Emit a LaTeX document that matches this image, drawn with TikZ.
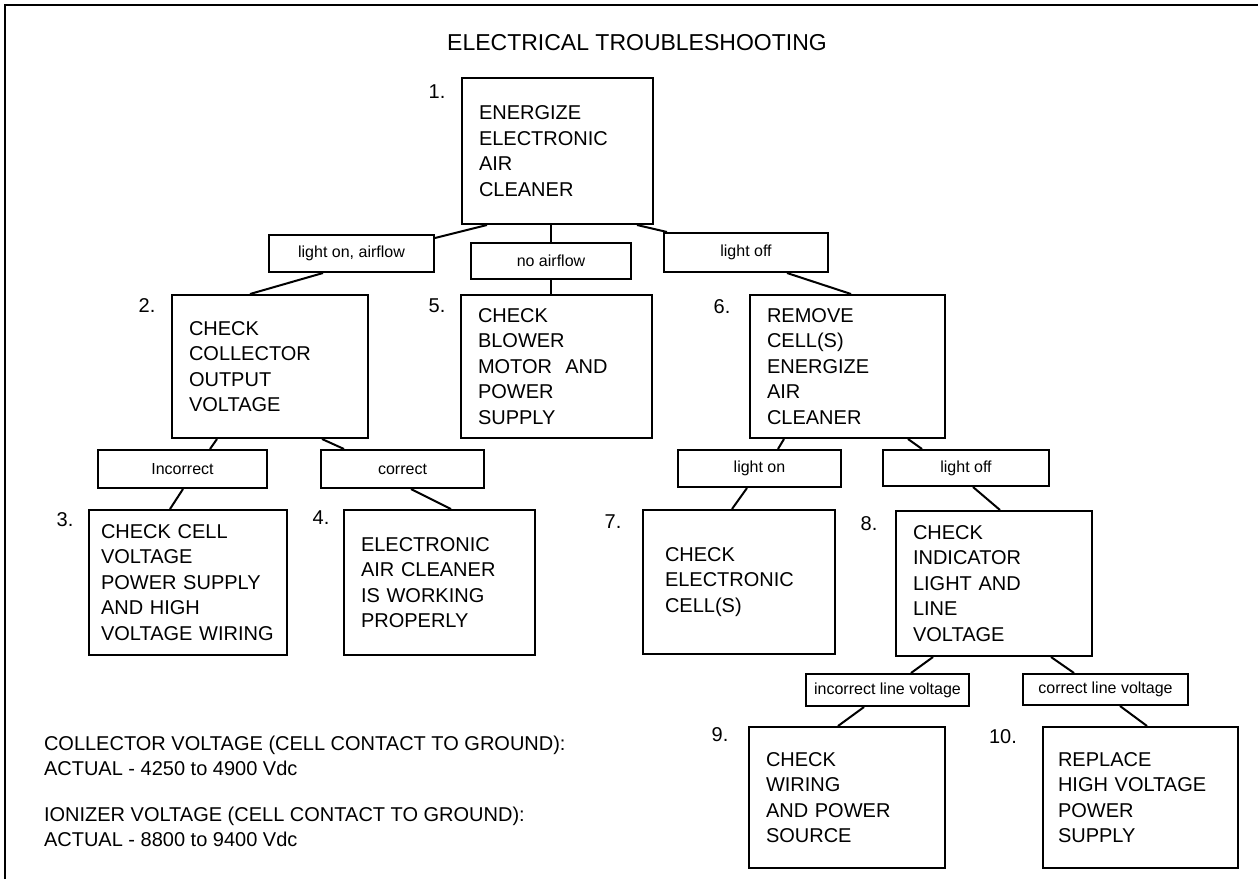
\documentclass[tikz,border=0pt]{standalone}
\usepackage{fontspec}
\setmainfont{Liberation Sans}
\newcommand{\boxfont}{\fontsize{20}{25.5}\selectfont}
\newcommand{\tagfont}{\fontsize{16}{19}\selectfont}
\newcommand{\ttlfont}{\fontsize{23}{27}\selectfont}
\begin{document}
\begin{tikzpicture}[x=1pt, y=-1pt, line width=2pt,
    stepbox/.style={draw, anchor=north west, align=left, inner xsep=17pt, font=\boxfont},
    tagbox/.style={draw, anchor=north west, inner sep=0pt, font=\tagfont},
    numtxt/.style={font=\boxfont, inner sep=0pt},
    notetxt/.style={font=\boxfont, anchor=west, align=left, inner sep=0pt}]
	\useasboundingbox (0,0) rectangle (1258,879);
	% 1. Rahmen und Titel
	\draw (5,879) -- (5,5) -- (1258,5);
	\node[font=\ttlfont] (title) at (637,43) {ELECTRICAL TROUBLESHOOTING};
	
	% 2. Schritte
	\node[stepbox, minimum height=146, text width=157] (b1) at (461,77) {ENERGIZE\\ELECTRONIC\\AIR\\CLEANER};
	\node[stepbox, minimum height=143, text width=162] (b2) at (171,294) {CHECK\\COLLECTOR\\OUTPUT\\VOLTAGE};
	\node[stepbox, minimum height=143, text width=157] (b5) at (460,294) {CHECK\\BLOWER\\MOTOR\ \ AND\\POWER\\SUPPLY};
	\node[stepbox, minimum height=143, text width=161] (b6) at (749,294) {REMOVE\\CELL(S)\\ENERGIZE\\AIR\\CLEANER};
	\node[stepbox, inner xsep=12pt, minimum height=145, text width=174] (b3) at (88,509) {CHECK CELL\\VOLTAGE\\POWER SUPPLY\\AND HIGH\\VOLTAGE WIRING};
	\node[stepbox, minimum height=145, text width=157] (b4) at (343,509) {ELECTRONIC\\AIR CLEANER\\IS WORKING\\PROPERLY};
	\node[stepbox, inner xsep=22pt, minimum height=144, text width=148] (b7) at (642,509) {CHECK\\ELECTRONIC\\CELL(S)};
	\node[stepbox, minimum height=145, text width=162] (b8) at (895,510) {CHECK\\INDICATOR\\LIGHT AND\\LINE\\VOLTAGE};
	\node[stepbox, minimum height=141, text width=162] (b9) at (748,726) {CHECK\\WIRING\\AND POWER\\SOURCE};
	\node[stepbox, inner xsep=15pt, minimum height=141, text width=165] (b10) at (1042,726) {REPLACE\\HIGH VOLTAGE\\POWER\\SUPPLY};
	
	% 3. Nummern
	\node[numtxt] (n1) at (437,92) {1.};
	\node[numtxt] (n2) at (147,306) {2.};
	\node[numtxt] (n5) at (437,306) {5.};
	\node[numtxt] (n6) at (722,307) {6.};
	\node[numtxt] (n3) at (65,520) {3.};
	\node[numtxt] (n4) at (321,518) {4.};
	\node[numtxt] (n7) at (613,522) {7.};
	\node[numtxt] (n8) at (869,524) {8.};
	\node[numtxt] (n9) at (720,735) {9.};
	\node[numtxt] (n10) at (1003,737) {10.};
	
	% 4. Bedingungen
	\node[tagbox, minimum width=165, minimum height=37] (l1) at (268,234) {light on, airflow};
	\node[tagbox, minimum width=160, minimum height=36] (l5) at (470,242) {no airflow};
	\node[tagbox, minimum width=164, minimum height=39] (l6) at (663,232) {light off};
	\node[tagbox, minimum width=169, minimum height=38] (l3) at (97,449) {Incorrect};
	\node[tagbox, minimum width=163, minimum height=38] (l4) at (320,449) {correct};
	\node[tagbox, minimum width=163, minimum height=37] (l7) at (677,449) {light on};
	\node[tagbox, minimum width=166, minimum height=36] (l8) at (882,449) {light off};
	\node[tagbox, minimum width=163, minimum height=32] (l9) at (805,673) {incorrect line voltage};
	\node[tagbox, minimum width=165, minimum height=31] (l10) at (1022,673) {correct line voltage};
	
	% 5. Verbindungen
	\draw ([xshift=26pt]b1.south west) -- ([yshift=-4pt]l1.north east);
	\draw ([xshift=90pt]b1.south west) -- ([xshift=81pt]l5.north west);
	\draw ([xshift=-17pt]b1.south east) -- ([xshift=4pt]l6.north west);
	\draw ([xshift=55pt]l1.south west) -- ([xshift=79pt]b2.north west);
	\draw ([xshift=81pt]l5.south west) -- ([xshift=91pt]b5.north west);
	\draw ([xshift=124pt]l6.south west) -- ([xshift=102pt]b6.north west);
	\draw ([xshift=46pt]b2.south west) -- ([xshift=113pt]l3.north west);
	\draw ([xshift=151pt]b2.south west) -- ([xshift=24pt]l4.north west);
	\draw ([xshift=86pt]l3.south west) -- ([xshift=82pt]b3.north west);
	\draw ([xshift=91pt]l4.south west) -- ([xshift=108pt]b4.north west);
	\draw ([xshift=35pt]b6.south west) -- ([xshift=101pt]l7.north west);
	\draw ([xshift=159pt]b6.south west) -- ([xshift=40pt]l8.north west);
	\draw ([xshift=70pt]l7.south west) -- ([xshift=90pt]b7.north west);
	\draw ([xshift=91pt]l8.south west) -- ([xshift=105pt]b8.north west);
	\draw ([xshift=38pt]b8.south west) -- ([xshift=106pt]l9.north west);
	\draw ([xshift=156pt]b8.south west) -- ([xshift=52pt]l10.north west);
	\draw ([xshift=59pt]l9.south west) -- ([xshift=90pt]b9.north west);
	\draw ([xshift=98pt]l10.south west) -- ([xshift=105pt]b10.north west);
	
	% 6. Messwerte
	\node[notetxt] (nc) at (43,756) {COLLECTOR VOLTAGE (CELL CONTACT TO GROUND):\\ACTUAL - 4250 to 4900 Vdc};
	\node[notetxt] (ni) at (43,827) {IONIZER VOLTAGE (CELL CONTACT TO GROUND):\\ACTUAL - 8800 to 9400 Vdc};
\end{tikzpicture}
\end{document}
